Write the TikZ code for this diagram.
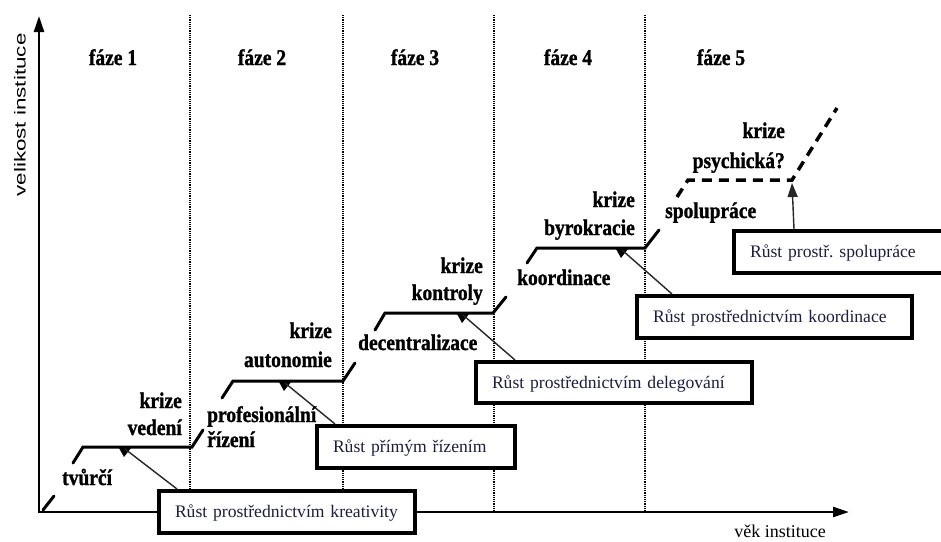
\documentclass[tikz,border=0pt]{standalone}
\usepackage{fontspec}
\setmainfont{Liberation Serif}[BoldFeatures={FakeBold=1.3}]
\setsansfont{Liberation Sans}
\usetikzlibrary{arrows.meta}
\definecolor{boxtext}{RGB}{28,28,72}
\newcommand{\tallbox}[1]{\scalebox{1}[1.15]{#1}}
\tikzset{
  lbl/.style={font=\fontsize{19.5}{23}\selectfont\bfseries, inner sep=0pt},
  lble/.style={lbl, anchor=base east},
  lblw/.style={lbl, anchor=base west},
  faze/.style={lbl, anchor=base},
  stair/.style={line width=3pt, line cap=round},
  dstair/.style={line width=3.5pt, dash pattern=on 10pt off 7pt},
  divider/.style={line width=1.2pt, densely dotted},
  growbox/.style={draw, line width=4pt, fill=white, anchor=north west, inner sep=0pt,
    align=left, text height=15pt, text depth=4pt,
    font=\fontsize{17.6}{21}\selectfont, text=boxtext},
  conn/.style={line width=1.4pt, draw=black!85},
  axis/.style={line width=2.4pt, -{Triangle[length=16pt,width=10pt]}},
}
\begin{document}
\begin{tikzpicture}[x=1pt,y=-1pt]
\clip (0,0) rectangle (941,541);
\fill[white] (0,0) rectangle (941,541);

% phase dividers
\foreach \xx in {190,343,494,645}
  \draw[divider] (\xx,15) -- (\xx,512);

% axes
\coordinate (o) at (39,513);
\coordinate (ytop) at (39,16);
\coordinate (xend) at (849,512);
\draw[axis] (o) -- (ytop);
\draw[axis] ([xshift=-1pt]o |- xend) -- (xend);

% phase titles
\node[faze] (f1) at (113,65) {\tallbox{fáze 1}};
\node[faze] (f2) at (262,65) {\tallbox{fáze 2}};
\node[faze] (f3) at (415,65) {\tallbox{fáze 3}};
\node[faze] (f4) at (568,65) {\tallbox{fáze 4}};
\node[faze] (f5) at (721,65) {\tallbox{fáze 5}};

% staircase
\draw[stair] (43,510) -- (54,496);
\draw[stair] (73,463) -- (83,447) -- (192,447) -- (203,430);
\draw[stair] (222,398) -- (233,381) -- (343,381) -- (355,363);
\draw[stair] (375,330) -- (385,313) -- (493,313) -- (506,297);
\draw[stair] (527,263) -- (537,248) -- (645,248) -- (659,230);
\draw[dstair] (677,197) -- (688,180) -- (792,180) -- (837,108);

% marker points on the staircase
\coordinate (m1) at (125,449);
\coordinate (m2) at (285,383);
\coordinate (m3) at (463,315);
\coordinate (m4) at (622,250);
\coordinate (a5) at (792,183);
\foreach \m in {m1,m2,m3,m4}
  \fill ([xshift=-6pt,yshift=1pt]\m) -- ([xshift=6pt,yshift=1pt]\m) -- ([xshift=-1pt,yshift=-8pt]\m) -- cycle;

% growth boxes
\node[growbox, minimum width=256pt, minimum height=42pt, text width=224pt] (b1) at (157,489) {Růst prostřednictvím kreativity};
\node[growbox, minimum width=198pt, minimum height=42pt, text width=166pt] (b2) at (315,424) {Růst přímým řízením};
\node[growbox, minimum width=276pt, minimum height=41pt, text width=244pt] (b3) at (474,360) {Růst prostřednictvím delegování};
\node[growbox, minimum width=275pt, minimum height=42pt, text width=243pt] (b4) at (635,294) {Růst prostřednictvím koordinace};
\node[growbox, minimum width=240pt, minimum height=42pt, text width=208pt] (b5) at (732,229) {Růst prostř.\ spolupráce};

% connectors
\draw[conn] ([xshift=20pt]b1.north west) -- (m1);
\draw[conn] ([xshift=20pt]b2.north west) -- (m2);
\draw[conn] ([xshift=41pt]b3.north west) -- (m3);
\draw[conn] ([xshift=37pt]b4.north west) -- (m4);
\draw[conn, -{Triangle[length=14pt,width=10pt]}] ([xshift=62pt]b5.north west) -- (a5);

% stage labels
\node[lblw] (l1) at (62,485) {\tallbox{tvůrčí}};
\node[lble] (k1a) at (182,408) {\tallbox{krize}};
\node[lble] (k1b) at (182,435) {\tallbox{vedení}};
\node[lblw] (l2a) at (207,422) {\tallbox{profesionální}};
\node[lblw] (l2b) at (207,447) {\tallbox{řízení}};
\node[lble] (k2a) at (332,338) {\tallbox{krize}};
\node[lble] (k2b) at (332,367) {\tallbox{autonomie}};
\node[lblw] (l3) at (358,350) {\tallbox{decentralizace}};
\node[lble] (k3a) at (483,273) {\tallbox{krize}};
\node[lble] (k3b) at (483,300) {\tallbox{kontroly}};
\node[lblw] (l4) at (517,285) {\tallbox{koordinace}};
\node[lble] (k4a) at (635,207) {\tallbox{krize}};
\node[lble] (k4b) at (635,235) {\tallbox{byrokracie}};
\node[lblw] (l5) at (665,218) {\tallbox{spolupráce}};
\node[lble] (k5a) at (785,138) {\tallbox{krize}};
\node[lble] (k5b) at (785,168) {\tallbox{psychická?}};

% axis labels
\node[rotate=90, inner sep=0pt, font=\sffamily\fontsize{15.9}{18}\selectfont] (ylab) at (20,115) {\scalebox{1.41}[1]{velikost instituce}};
\node[anchor=base, inner sep=0pt, font=\fontsize{18}{21}\selectfont] (xlab) at (780,537) {věk instituce};
\end{tikzpicture}
\end{document}
